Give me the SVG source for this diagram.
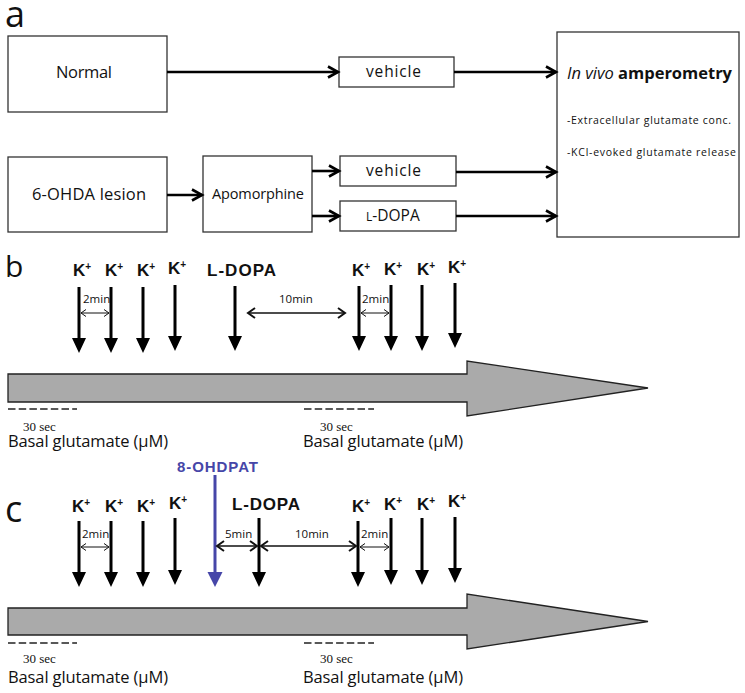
<svg xmlns="http://www.w3.org/2000/svg" width="745" height="693" viewBox="0 0 745 693">
<style>
.box{fill:#fff;stroke:#333;stroke-width:1.3}
.t{font-family:"Open Sans","Liberation Sans",sans-serif;fill:#111}
.lbl{font-family:"Open Sans","Liberation Sans",sans-serif;fill:#111}
.k{font-family:"Liberation Sans",Arial,sans-serif;font-weight:bold;fill:#111;font-size:17px}
.sup{font-size:10px}
.ser{font-family:"Liberation Serif","Times New Roman",serif;font-size:13px;fill:#111}
.sm{font-family:"Open Sans","Liberation Sans",sans-serif;font-size:11.5px;fill:#111}
.conn{stroke:#000;stroke-width:2.6;fill:none}
.dn{stroke:#000;stroke-width:3;fill:none}
.head{fill:#000}
.thin{stroke:#111;stroke-width:1;fill:none}
.mid{stroke:#111;stroke-width:1.6;fill:none}
.dash{stroke:#222;stroke-width:1.5;stroke-dasharray:7.5 3.2}
.big{fill:#aaa;stroke:#222;stroke-width:1.3}
</style>
<defs>
<marker id="ch" markerUnits="userSpaceOnUse" markerWidth="14" markerHeight="14" viewBox="-12 -7 14 14" refX="0" refY="0" orient="auto" overflow="visible">
<path d="M-10,-5.5 L0,0 L-10,5.5" fill="none" stroke="#000" stroke-width="2.6"/>
</marker>
<marker id="thinA" markerUnits="userSpaceOnUse" markerWidth="10" markerHeight="10" viewBox="-8 -5 10 10" refX="0" refY="0" orient="auto-start-reverse" overflow="visible">
<path d="M-5,-3.5 L0,0 L-5,3.5" fill="none" stroke="#111" stroke-width="1"/>
</marker>
<marker id="midA" markerUnits="userSpaceOnUse" markerWidth="12" markerHeight="12" viewBox="-10 -6 12 12" refX="0" refY="0" orient="auto-start-reverse" overflow="visible">
<path d="M-7,-5 L0,0 L-7,5" fill="none" stroke="#111" stroke-width="2"/>
</marker>
</defs>

<!-- panel labels -->
<text class="lbl" x="5" y="27" font-size="36">a</text>
<text class="lbl" x="5" y="277" font-size="30">b</text>
<text class="lbl" x="5" y="522" font-size="36">c</text>

<!-- panel a nodes -->
<g id="normal"><rect class="box" x="8" y="36" width="159" height="76"/><text class="t" x="84" y="78" font-size="16.5" text-anchor="middle" textLength="56">Normal</text></g>
<g id="vehicle1"><rect class="box" x="339" y="57" width="115" height="30"/><text class="t" x="366" y="77" font-size="15.5" textLength="55">vehicle</text></g>
<g id="ohda"><rect class="box" x="8" y="157" width="159" height="75"/><text class="t" x="32" y="200" font-size="16.5" textLength="114">6-OHDA lesion</text></g>
<g id="apomorphine"><rect class="box" x="203" y="156" width="109" height="76"/><text class="t" x="212" y="199" font-size="14.5" textLength="92">Apomorphine</text></g>
<g id="vehicle2"><rect class="box" x="340" y="156" width="116" height="30"/><text class="t" x="366" y="176" font-size="15.5" textLength="55">vehicle</text></g>
<g id="ldopa-a"><rect class="box" x="340" y="201" width="116" height="30"/><text class="t" x="366" y="221" font-size="15.5"><tspan font-size="12">L</tspan>-DOPA</text></g>
<g id="amperometry"><rect class="box" x="557" y="32" width="182" height="205"/>
<text class="t" x="567" y="79" font-size="16.5" textLength="165"><tspan font-style="italic">In vivo</tspan> <tspan font-weight="bold">amperometry</tspan></text>
<text class="t" x="567" y="124" font-size="10.5" textLength="164">-Extracellular glutamate conc.</text>
<text class="t" x="567" y="156" font-size="10.5" textLength="169">-KCl-evoked glutamate release</text>
</g>

<!-- panel a connectors -->
<g id="connectors-a">
<line class="conn" x1="167" y1="72" x2="338" y2="72" marker-end="url(#ch)"/>
<line class="conn" x1="454" y1="72" x2="556" y2="72" marker-end="url(#ch)"/>
<line class="conn" x1="167" y1="195" x2="202" y2="195" marker-end="url(#ch)"/>
<line class="conn" x1="312" y1="171" x2="339" y2="171" marker-end="url(#ch)"/>
<line class="conn" x1="312" y1="216" x2="339" y2="216" marker-end="url(#ch)"/>
<line class="conn" x1="456" y1="172" x2="556" y2="172" marker-end="url(#ch)"/>
<line class="conn" x1="456" y1="216" x2="556" y2="216" marker-end="url(#ch)"/>
</g>

<!-- panel b -->
<g id="timeline-b">
<polygon class="big" points="8,374 467,374 467,361 648,388 467,416 467,402 8,402"/>
<line class="dash" x1="8" y1="409" x2="77" y2="409"/>
<line class="dash" x1="304" y1="409" x2="374" y2="409"/>
<text class="ser" x="23" y="431">30 sec</text>
<text class="ser" x="320" y="431">30 sec</text>
<text class="t" x="8" y="447" font-size="16.5" textLength="160">Basal glutamate (μM)</text>
<text class="t" x="303" y="447" font-size="16.5" textLength="160">Basal glutamate (μM)</text>
</g>
<g id="labels-b">
<text class="k" x="73" y="276">K<tspan class="sup" dy="-6">+</tspan></text>
<text class="k" x="105" y="276">K<tspan class="sup" dy="-6">+</tspan></text>
<text class="k" x="137" y="276">K<tspan class="sup" dy="-6">+</tspan></text>
<text class="k" x="168" y="274">K<tspan class="sup" dy="-6">+</tspan></text>
<text class="k" x="207" y="276" textLength="69">L-DOPA</text>
<text class="k" x="352" y="276">K<tspan class="sup" dy="-6">+</tspan></text>
<text class="k" x="384" y="275">K<tspan class="sup" dy="-6">+</tspan></text>
<text class="k" x="417" y="275">K<tspan class="sup" dy="-6">+</tspan></text>
<text class="k" x="448" y="273">K<tspan class="sup" dy="-6">+</tspan></text>
<text class="sm" x="83" y="303">2min</text>
<text class="sm" x="279" y="303">10min</text>
<text class="sm" x="362" y="303">2min</text>
</g>
<g id="connectors-b">
<path class="dn" d="M79,287V339 M111,287V339 M143,287V339 M175,285V337 M235,286V337 M359,286V337 M391,285V337 M422,285V337 M455,283V334"/>
<path class="head" d="M72,338h14l-7,15z M104,338h14l-7,15z M136,338h14l-7,15z M168,336h14l-7,15z M228,336h14l-7,15z M352,336h14l-7,15z M384,336h14l-7,15z M415,336h14l-7,15z M448,333h14l-7,15z"/>
<line class="thin" x1="81" y1="313" x2="109" y2="313" marker-start="url(#thinA)" marker-end="url(#thinA)"/>
<line class="thin" x1="361" y1="313" x2="389" y2="313" marker-start="url(#thinA)" marker-end="url(#thinA)"/>
<line class="mid" x1="248" y1="313" x2="345" y2="313" marker-start="url(#midA)" marker-end="url(#midA)"/>
</g>

<!-- panel c -->
<g id="timeline-c">
<polygon class="big" points="8,608 467,608 467,594 648,621.5 467,649 467,635 8,635"/>
<line class="dash" x1="8" y1="643" x2="77" y2="643"/>
<line class="dash" x1="304" y1="643" x2="374" y2="643"/>
<text class="ser" x="23" y="663">30 sec</text>
<text class="ser" x="320" y="663">30 sec</text>
<text class="t" x="8" y="683" font-size="16.5" textLength="160">Basal glutamate (μM)</text>
<text class="t" x="303" y="683" font-size="16.5" textLength="160">Basal glutamate (μM)</text>
</g>
<g id="labels-c">
<text class="k" x="177" y="472" style="fill:#4646a8;font-size:15px" textLength="81">8-OHDPAT</text>
<text class="k" x="72" y="512">K<tspan class="sup" dy="-6">+</tspan></text>
<text class="k" x="105" y="512">K<tspan class="sup" dy="-6">+</tspan></text>
<text class="k" x="137" y="512">K<tspan class="sup" dy="-6">+</tspan></text>
<text class="k" x="169" y="509">K<tspan class="sup" dy="-6">+</tspan></text>
<text class="k" x="232" y="510" textLength="68">L-DOPA</text>
<text class="k" x="352" y="512">K<tspan class="sup" dy="-6">+</tspan></text>
<text class="k" x="384" y="510">K<tspan class="sup" dy="-6">+</tspan></text>
<text class="k" x="417" y="510">K<tspan class="sup" dy="-6">+</tspan></text>
<text class="k" x="448" y="507">K<tspan class="sup" dy="-6">+</tspan></text>
<text class="sm" x="82" y="538">2min</text>
<text class="sm" x="225" y="538">5min</text>
<text class="sm" x="295" y="538">10min</text>
<text class="sm" x="361" y="538">2min</text>
</g>
<g id="connectors-c">
<path d="M215,475V573" stroke="#4646a8" stroke-width="3" fill="none"/>
<path d="M207.5,572h15l-7.5,15z" fill="#4646a8"/>
<path class="dn" d="M79,521V573 M111,521V573 M143,521V573 M175,518V571 M259,518V573 M358,521V573 M391,518V571 M422,518V571 M455,517V569"/>
<path class="head" d="M72,572h14l-7,15z M104,572h14l-7,15z M136,572h14l-7,15z M168,570h14l-7,15z M252,572h14l-7,15z M351,572h14l-7,15z M384,570h14l-7,15z M415,570h14l-7,15z M448,568h14l-7,15z"/>
<line class="thin" x1="81" y1="547" x2="109" y2="547" marker-start="url(#thinA)" marker-end="url(#thinA)"/>
<line class="thin" x1="360" y1="547" x2="389" y2="547" marker-start="url(#thinA)" marker-end="url(#thinA)"/>
<line class="mid" x1="217" y1="546" x2="257" y2="546" marker-start="url(#midA)" marker-end="url(#midA)"/>
<line class="mid" x1="261" y1="546" x2="356" y2="546" marker-start="url(#midA)" marker-end="url(#midA)"/>
</g>
</svg>
